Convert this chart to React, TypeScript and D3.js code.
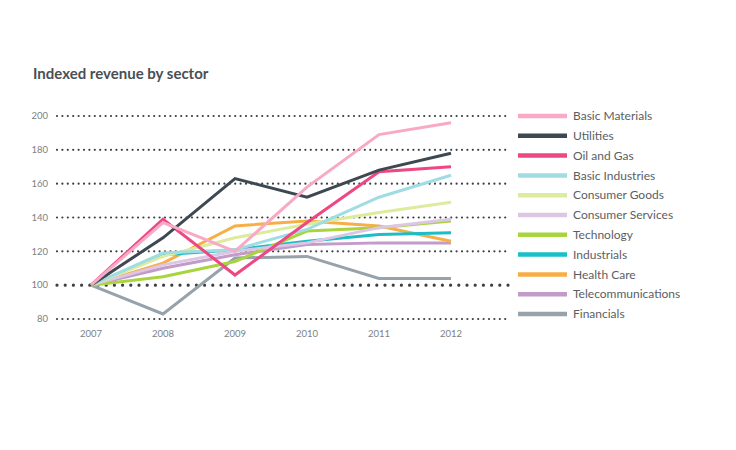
import React from "react";
import * as d3 from "d3";

const years = ["2007", "2008", "2009", "2010", "2011", "2012"];
const yTicks = [80, 100, 120, 140, 160, 180, 200];

const sectors = [
  "Basic Materials",
  "Utilities",
  "Oil and Gas",
  "Basic Industries",
  "Consumer Goods",
  "Consumer Services",
  "Technology",
  "Industrials",
  "Health Care",
  "Telecommunications",
  "Financials",
];

const colors = [
  "#f7a9c5",
  "#3e4852",
  "#ee4884",
  "#9fdde3",
  "#dcec9c",
  "#ddc6e4",
  "#a8d53e",
  "#19bec7",
  "#f7ae47",
  "#c29bc9",
  "#97a2ab",
];

const basicMaterials = [100, 137, 120, 158, 189, 196];
const utilities = [100, 128, 163, 152, 168, 178];
const oilAndGas = [100, 139, 106, 137, 167, 170];
const basicIndustries = [100, 119, 121, 133, 152, 165];
const consumerGoods = [100, 117, 128, 136, 143, 149];
const consumerServices = [100, 112, 120, 125, 134, 139];
const technology = [100, 105, 114, 132, 134, 138];
const industrials = [100, 118, 121, 126, 130, 131];
const healthCare = [100, 113, 135, 138, 135, 126];
const telecommunications = [100, 110, 118, 124, 125, 125];
const financials = [100, 83, 116, 117, 104, 104];

const seriesValues = [
  basicMaterials,
  utilities,
  oilAndGas,
  basicIndustries,
  consumerGoods,
  consumerServices,
  technology,
  industrials,
  healthCare,
  telecommunications,
  financials,
];

export default function App() {
  const x = d3.scalePoint<string>().domain(years).range([91, 451]);
  const y = d3.scaleLinear().domain([80, 200]).range([319, 116]);
  const line = d3
    .line<number>()
    .x((_, i) => x(years[i]) as number)
    .y((v) => y(v));

  const font = "Lato, 'Open Sans', sans-serif";
  const drawOrder = d3.range(sectors.length).reverse();

  return (
    <svg width={736} height={450} style={{ position: "absolute", left: 0, top: 0 }}>
      <rect width={736} height={450} fill="#ffffff" />
      <text x={33} y={79} fontFamily={font} fontWeight={700} fontSize={15} fill="#4a4f55">
        Indexed revenue by sector
      </text>

      {yTicks.map((t) => (
        <g key={t}>
          <line
            x1={57}
            x2={t === 100 ? 512 : 510}
            y1={y(t)}
            y2={y(t)}
            stroke="#3a3f44"
            strokeWidth={t === 100 ? 3.2 : 2.2}
            strokeLinecap="round"
            strokeDasharray={t === 100 ? "0 8.2" : "0 5.4"}
          />
          <text
            x={48}
            y={y(t)}
            dy="0.35em"
            textAnchor="end"
            fontFamily={font}
            fontSize={9.5}
            fill="#7a7f84"
          >
            {t}
          </text>
        </g>
      ))}

      {years.map((yr) => (
        <text
          key={yr}
          x={x(yr)}
          y={337}
          textAnchor="middle"
          fontFamily={font}
          fontSize={9.5}
          fill="#7a7f84"
        >
          {yr}
        </text>
      ))}

      {drawOrder.map((i) => (
        <path
          key={sectors[i]}
          d={line(seriesValues[i]) as string}
          fill="none"
          stroke={colors[i]}
          strokeWidth={3}
          strokeLinejoin="miter"
        />
      ))}

      {sectors.map((s, i) => {
        const ly = 116 + i * 19.8;
        return (
          <g key={s}>
            <line x1={518} x2={567} y1={ly} y2={ly} stroke={colors[i]} strokeWidth={4.5} />
            <text
              x={573}
              y={ly}
              dy="0.35em"
              fontFamily={font}
              fontSize={12}
              fill="#5a5e63"
            >
              {s}
            </text>
          </g>
        );
      })}
    </svg>
  );
}
